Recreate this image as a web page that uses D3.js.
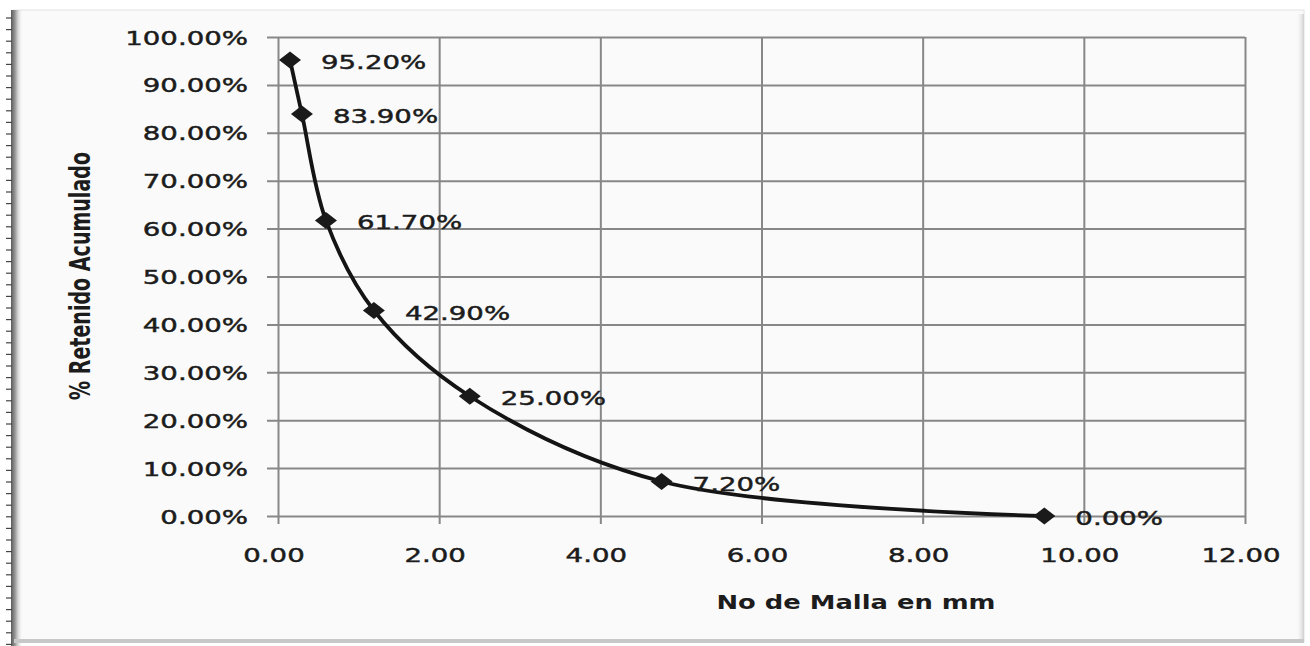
<!DOCTYPE html>
<html>
<head>
<meta charset="utf-8">
<script src="https://cdn.jsdelivr.net/npm/d3@7"></script>
<style>
  html, body { margin: 0; padding: 0; background: #ffffff; }
  svg { display: block; }
  text { font-family: "DejaVu Sans", sans-serif; fill: #1c1c1c; }
  text.num { stroke: #1c1c1c; stroke-width: 0.45px; }
</style>
</head>
<body>
<svg id="chart" width="1310" height="646"></svg>
<script>
// Sieve openings (mm) and cumulative retained fraction
const aberturas = [0.149, 0.297, 0.595, 1.19, 2.38, 4.76, 9.51];
const retenido = [0.952, 0.839, 0.617, 0.429, 0.250, 0.072, 0.000];
const etiquetas = ["95.20%", "83.90%", "61.70%", "42.90%", "25.00%", "7.20%", "0.00%"];
const xTicks = [0, 2, 4, 6, 8, 10, 12];
const yTicks = [0, 0.1, 0.2, 0.3, 0.4, 0.5, 0.6, 0.7, 0.8, 0.9, 1.0];
const tituloX = "No de Malla en mm";
const tituloY = "% Retenido Acumulado";

const svg = d3.select("#chart");
const W = 1310, H = 646;
const plot = { left: 278, right: 1245, top: 37, bottom: 516 };
const SX = 1.38;          // horizontal stretch of the lettering
const gridColor = "#878787";

const x = d3.scaleLinear().domain([0, 12]).range([plot.left, plot.right]);
const y = d3.scaleLinear().domain([0, 1]).range([plot.bottom, plot.top]);

// chart area frame
svg.append("rect").attr("x", 0).attr("y", 0).attr("width", W).attr("height", H).attr("fill", "#ffffff");
svg.append("rect").attr("x", 14).attr("y", 10).attr("width", 1290).attr("height", 632)
  .attr("fill", "#fafafa").attr("stroke", "#e2e2e2").attr("stroke-width", 1);

const defs = svg.append("defs");
const gL = defs.append("linearGradient").attr("id", "edgeL");
gL.append("stop").attr("offset", "0%").attr("stop-color", "#5a5a5a");
gL.append("stop").attr("offset", "35%").attr("stop-color", "#9a9a9a");
gL.append("stop").attr("offset", "100%").attr("stop-color", "#fafafa").attr("stop-opacity", 0);
svg.append("rect").attr("x", 11).attr("y", 10).attr("width", 12).attr("height", 636).attr("fill", "url(#edgeL)");

const gR = defs.append("linearGradient").attr("id", "edgeR");
gR.append("stop").attr("offset", "0%").attr("stop-color", "#fafafa").attr("stop-opacity", 0);
gR.append("stop").attr("offset", "100%").attr("stop-color", "#cfcfcf");
svg.append("rect").attr("x", 1296).attr("y", 14).attr("width", 8).attr("height", 628).attr("fill", "url(#edgeR)");
svg.append("rect").attr("x", 14).attr("y", 639).attr("width", 1290).attr("height", 4).attr("fill", "#c8c8c8");

// ruler marks along the left edge
svg.append("g").selectAll("line").data(d3.range(0, 55)).join("line")
  .attr("x1", 6).attr("x2", 12)
  .attr("y1", d => 18 + d * 11.6).attr("y2", d => 18 + d * 11.6)
  .attr("stroke", "#444").attr("stroke-width", 1.2);

// gridlines with outward ticks
const yAxis = d3.axisLeft(y).tickValues(yTicks)
  .tickSize(-(plot.right - plot.left)).tickSizeOuter(0).tickFormat("");
svg.append("g").attr("transform", `translate(${plot.left},0)`).call(yAxis)
  .call(g => g.select(".domain").remove())
  .call(g => g.selectAll(".tick line").attr("x1", -11).attr("stroke", gridColor).attr("stroke-width", 2));

const xAxis = d3.axisBottom(x).tickValues(xTicks)
  .tickSize(-(plot.bottom - plot.top)).tickSizeOuter(0).tickFormat("");
svg.append("g").attr("transform", `translate(0,${plot.bottom})`).call(xAxis)
  .call(g => g.select(".domain").remove())
  .call(g => g.selectAll(".tick line").attr("y1", 8).attr("stroke", gridColor).attr("stroke-width", 2));

// tick labels
svg.append("g").selectAll("text").data(yTicks).join("text")
  .attr("class", "num")
  .attr("transform", d => `translate(248,${y(d) + 7.5}) scale(${SX},1)`)
  .attr("text-anchor", "end").attr("font-size", 20)
  .text(d => d3.format(".2%")(d));

svg.append("g").selectAll("text").data(xTicks).join("text")
  .attr("class", "num")
  .attr("transform", d => `translate(${x(d) - 4},${562}) scale(${SX},1)`)
  .attr("text-anchor", "middle").attr("font-size", 20)
  .text(d => d3.format(".2f")(d));

// axis titles
svg.append("text")
  .attr("x", 856).attr("y", 609)
  .attr("text-anchor", "middle").attr("font-size", 20).attr("font-weight", "bold")
  .attr("textLength", 279).attr("lengthAdjust", "spacingAndGlyphs")
  .text(tituloX);

svg.append("g").attr("transform", "translate(90,276) rotate(-90) scale(1,1.45)")
  .append("text")
  .attr("x", 0).attr("y", 0)
  .attr("text-anchor", "middle").attr("font-size", 20).attr("font-weight", "bold")
  .attr("textLength", 248).attr("lengthAdjust", "spacingAndGlyphs")
  .text(tituloY);

// smoothed gradation curve
const pts = aberturas.map((a, i) => [a, retenido[i]]);
const line = d3.line().x(d => x(d[0])).y(d => y(d[1])).curve(d3.curveCatmullRom.alpha(0.5));
svg.append("path").datum(pts).attr("d", line)
  .attr("fill", "none").attr("stroke", "#141414").attr("stroke-width", 3.8)
  .attr("stroke-linejoin", "round");

// diamond markers
svg.append("g").selectAll("path").data(pts).join("path")
  .attr("transform", d => `translate(${x(d[0])},${y(d[1])})`)
  .attr("d", "M-11,0 L0,-8.5 L11,0 L0,8.5 Z")
  .attr("fill", "#1a1a1a");

// data labels
svg.append("g").selectAll("text").data(pts).join("text")
  .attr("class", "num")
  .attr("transform", (d, i) => `translate(${x(d[0]) + 31},${y(d[1]) + 9}) scale(${SX},1)`)
  .attr("font-size", 20)
  .text((d, i) => etiquetas[i]);
</script>
</body>
</html>
